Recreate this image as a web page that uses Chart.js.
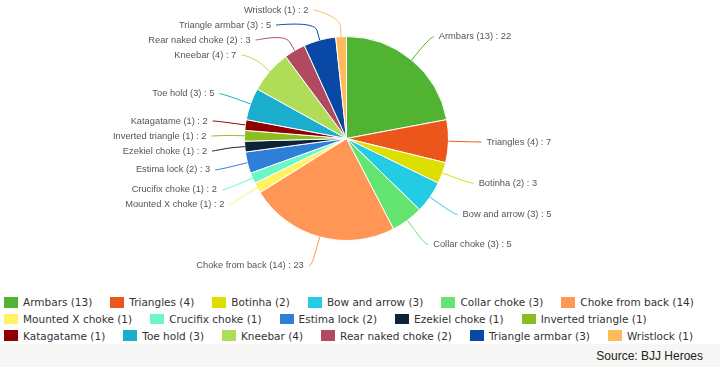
<!DOCTYPE html>
<html>
<head>
<meta charset="utf-8">
<script src="https://cdn.jsdelivr.net/npm/chart.js@4"></script>
<style>
    html, body { margin: 0; padding: 0; }
    body { width: 720px; height: 367px; background: #f6f6f4; position: relative; overflow: hidden; }
    #panel { position: absolute; left: 0; top: 0; width: 720px; height: 344px; background: #fff; }
    #chartBox { position: absolute; left: 0; top: 0; width: 720px; height: 290px; }
    #legend { position: absolute; left: 4px; top: 294px; width: 712px; display: flex; flex-wrap: wrap;
              font: 10.5px "DejaVu Sans", Verdana, sans-serif; color: #333; }
    .item { display: flex; align-items: center; height: 16.7px; margin-right: 18px; white-space: nowrap; }
    .swatch { width: 14px; height: 10.5px; margin-right: 5px; }
    #source { position: absolute; right: 17px; top: 349px; font: 12px "Liberation Sans", Arial, sans-serif; color: #222; }
</style>
</head>
<body>
<div id="panel"></div>
<div id="chartBox"><canvas id="pie"></canvas></div>
<div id="legend"></div>
<div id="source">Source: BJJ Heroes</div>
<script>
var techniques = ['Armbars', 'Triangles', 'Botinha', 'Bow and arrow', 'Collar choke', 'Choke from back',
    'Mounted X choke', 'Crucifix choke', 'Estima lock', 'Ezekiel choke', 'Inverted triangle',
    'Katagatame', 'Toe hold', 'Kneebar', 'Rear naked choke', 'Triangle armbar', 'Wristlock'];
var counts = [13, 4, 2, 3, 3, 14, 1, 1, 2, 1, 1, 1, 3, 4, 2, 3, 1];
var percents = [22, 7, 3, 5, 5, 23, 2, 2, 3, 2, 2, 2, 5, 7, 3, 5, 2];
var colors = ['#50b432', '#ed561b', '#dddf00', '#24cbe5', '#64e572', '#ff9655',
    '#fff263', '#6af9c4', '#2f7ed8', '#0d233a', '#8bbc21',
    '#910000', '#1aadce', '#b0dd58', '#b14a60', '#0a48a6', '#ffba5a'];

// outside labels with soft connectors, spread apart per side
var pieLabels = {
    id: 'pieLabels',
    afterDatasetsDraw: function (chart) {
        var ctx = chart.ctx;
        var arcs = chart.getDatasetMeta(0).data;
        var minGap = 15;
        var items = arcs.map(function (arc, i) {
            var p = arc.getProps(['x', 'y', 'startAngle', 'endAngle', 'outerRadius'], true);
            var mid = (p.startAngle + p.endAngle) / 2;
            var R = p.outerRadius + 30;
            return {
                i: i, cx: p.x, cy: p.y, r: p.outerRadius, R: R,
                cos: Math.cos(mid), sin: Math.sin(mid),
                side: Math.cos(mid) >= 0 ? 1 : -1,
                y: p.y + R * Math.sin(mid)
            };
        });

        [1, -1].forEach(function (side) {
            var group = items.filter(function (it) { return it.side === side; });
            group.sort(function (a, b) { return a.y - b.y; });
            var prev = 10 - minGap;
            group.forEach(function (it) {
                it.y = Math.max(it.y, prev + minGap);
                prev = it.y;
            });
            var next = chart.height - 10 + minGap;
            for (var k = group.length - 1; k >= 0; k--) {
                group[k].y = Math.min(group[k].y, next - minGap);
                next = group[k].y;
            }
        });

        ctx.save();
        ctx.font = '9.3px "Liberation Sans", Arial, sans-serif';
        ctx.textBaseline = 'middle';
        items.forEach(function (it) {
            var dy = it.y - it.cy;
            var ax = it.cx + it.side * Math.sqrt(Math.max(it.R * it.R - dy * dy, 0));
            var ex = it.cx + it.r * it.cos, ey = it.cy + it.r * it.sin;
            var bx = it.cx + (it.r + 10) * it.cos, by = it.cy + (it.r + 10) * it.sin;

            ctx.strokeStyle = colors[it.i];
            ctx.lineWidth = 1;
            ctx.beginPath();
            ctx.moveTo(ax + it.side * 3, it.y);
            ctx.bezierCurveTo(ax, it.y, 2 * bx - ex, 2 * by - ey, bx, by);
            ctx.lineTo(ex, ey);
            ctx.stroke();

            ctx.fillStyle = '#555';
            ctx.textAlign = it.side > 0 ? 'left' : 'right';
            ctx.fillText(techniques[it.i] + ' (' + counts[it.i] + ') : ' + percents[it.i],
                ax + it.side * 8, it.y);
        });
        ctx.restore();
    }
};

new Chart(document.getElementById('pie'), {
    type: 'pie',
    data: {
        labels: techniques,
        datasets: [{
            data: counts,
            backgroundColor: colors,
            borderColor: '#fff',
            borderWidth: 1
        }]
    },
    options: {
        responsive: true,
        maintainAspectRatio: false,
        animation: false,
        layout: { padding: { top: 36, bottom: 49, left: 0, right: 27 } },
        plugins: {
            legend: { display: false },
            tooltip: { enabled: false }
        }
    },
    plugins: [pieLabels]
});

var legend = document.getElementById('legend');
techniques.forEach(function (name, i) {
    var item = document.createElement('div');
    item.className = 'item';
    var sw = document.createElement('span');
    sw.className = 'swatch';
    sw.style.background = colors[i];
    item.appendChild(sw);
    item.appendChild(document.createTextNode(name + ' (' + counts[i] + ')'));
    legend.appendChild(item);
});
</script>
</body>
</html>
